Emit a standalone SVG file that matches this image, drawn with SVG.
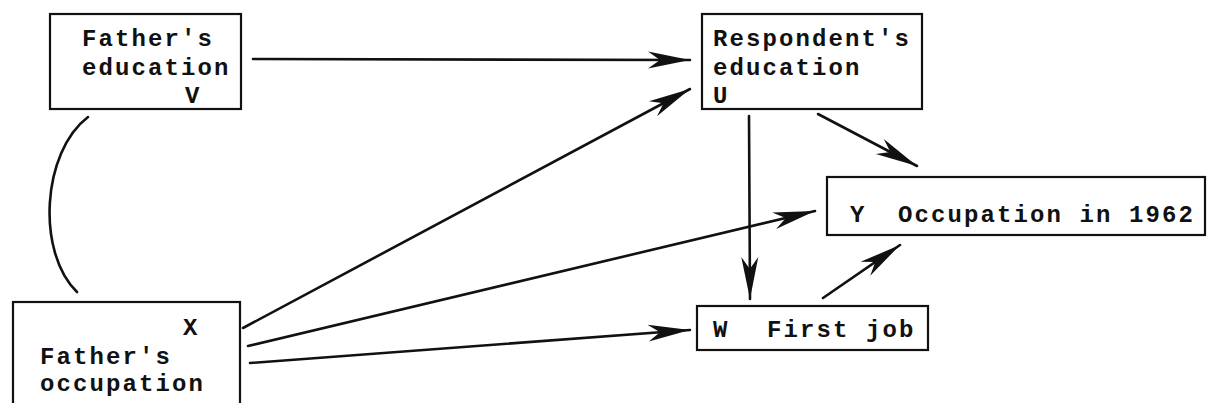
<svg xmlns="http://www.w3.org/2000/svg" width="1207" height="403" viewBox="0 0 1207 403">
  <style>
    .box { fill: #ffffff; stroke: #111111; stroke-width: 2.2; }
    .lbl { font-family: "Liberation Mono", "Courier New", monospace; font-weight: bold; font-size: 24px; letter-spacing: 2.1px; fill: #111111; }
    .edge { fill: none; stroke: #111111; stroke-width: 2.6; stroke-linecap: round; }
  </style>
  <defs>
    <marker id="barb" markerUnits="userSpaceOnUse" viewBox="-44 -10 46 20" refX="0" refY="0" markerWidth="46" markerHeight="20" orient="auto">
      <path d="M0,0 L-42,-8.5 L-30,0 L-42,8.5 Z" fill="#111111"/>
    </marker>
  </defs>
  <rect width="1207" height="403" fill="#ffffff"/>

  <g id="connectors">
    <!-- V to U -->
    <line class="edge" x1="253" y1="59" x2="690" y2="60" marker-end="url(#barb)"/>
    <!-- X to U -->
    <line class="edge" x1="243" y1="328" x2="690" y2="89" marker-end="url(#barb)"/>
    <!-- U to Y -->
    <line class="edge" x1="818" y1="114" x2="917" y2="166" marker-end="url(#barb)"/>
    <!-- U to W -->
    <line class="edge" x1="749" y1="116" x2="750" y2="299" marker-end="url(#barb)"/>
    <!-- X to Y -->
    <line class="edge" x1="248" y1="346" x2="815" y2="211" marker-end="url(#barb)"/>
    <!-- X to W -->
    <line class="edge" x1="250" y1="363" x2="690" y2="330" marker-end="url(#barb)"/>
    <!-- W to Y -->
    <line class="edge" x1="823" y1="298" x2="900" y2="245" marker-end="url(#barb)"/>
    <!-- correlation between V and X -->
    <path class="edge" d="M88 117 C42 152, 36 252, 77 292"/>
  </g>

  <g id="node-V">
    <rect class="box" x="50" y="14" width="191" height="95"/>
    <text class="lbl" x="82" y="46">Father's</text>
    <text class="lbl" x="82" y="75">education</text>
    <text class="lbl" x="185" y="103">V</text>
  </g>

  <g id="node-U">
    <rect class="box" x="702" y="14" width="220" height="95"/>
    <text class="lbl" x="713" y="46">Respondent's</text>
    <text class="lbl" x="713" y="75">education</text>
    <text class="lbl" x="713" y="103">U</text>
  </g>

  <g id="node-Y">
    <rect class="box" x="827" y="177" width="378" height="58"/>
    <text class="lbl" x="850" y="222">Y</text>
    <text class="lbl" x="898" y="222">Occupation in 1962</text>
  </g>

  <g id="node-W">
    <rect class="box" x="697" y="306" width="231" height="44"/>
    <text class="lbl" x="713" y="337">W</text>
    <text class="lbl" x="767" y="337">First job</text>
  </g>

  <g id="node-X">
    <rect class="box" x="13" y="302" width="227" height="110"/>
    <text class="lbl" x="183" y="335">X</text>
    <text class="lbl" x="40" y="364">Father's</text>
    <text class="lbl" x="40" y="391">occupation</text>
  </g>
</svg>
